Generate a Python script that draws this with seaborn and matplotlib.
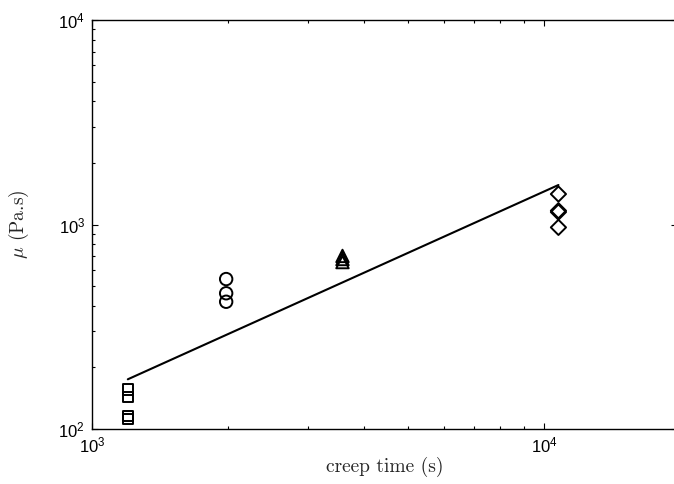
import numpy as np
import pandas as pd
import seaborn as sns
import matplotlib.pyplot as plt
from matplotlib.ticker import LogLocator, FuncFormatter, NullFormatter

# creep time (s) and measured viscosity (Pa.s) for each creep test
t_square = [1200, 1200, 1200, 1200]
mu_square = [156, 143, 116, 112]
t_circle = [1980, 1980, 1980]
mu_circle = [541, 461, 419]
t_triangle = [3580, 3580, 3580]
mu_triangle = [702, 678, 655]
t_diamond = [10750, 10750, 10750, 10750]
mu_diamond = [1409, 1168, 1150, 968]

# power-law fit end points
fit_t = [1200, 10750]
fit_mu = [175, 1560]

groups = [
    ("square", t_square, mu_square, "s", 55),
    ("circle", t_circle, mu_circle, "o", 80),
    ("triangle", t_triangle, mu_triangle, "^", 80),
    ("diamond", t_diamond, mu_diamond, "D", 60),
]

sns.set_style("ticks")
plt.rcParams["mathtext.fontset"] = "cm"

fig = plt.figure(figsize=(6.74, 4.84), dpi=100)
# right spine sits just past the image edge, as in the original crop
ax = fig.add_axes([92 / 674, 55 / 484, 585 / 674, 409 / 484])

fit_df = pd.DataFrame({"t": fit_t, "mu": fit_mu})
sns.lineplot(data=fit_df, x="t", y="mu", color="black", linewidth=1.5, ax=ax)

for name, t, mu, marker, size in groups:
    df = pd.DataFrame({"t": t, "mu": mu})
    sns.scatterplot(data=df, x="t", y="mu", marker=marker, s=size,
                    facecolor="none", edgecolor="black", linewidth=1.4, ax=ax)

ax.set_xscale("log")
ax.set_yscale("log")
ax.set_xlim(1000, 19660)
ax.set_ylim(100, 10000)

fmt = FuncFormatter(lambda v, p: r"$\mathregular{10^{%d}}$" % round(np.log10(v)))
ax.xaxis.set_major_locator(LogLocator(base=10))
ax.yaxis.set_major_locator(LogLocator(base=10))
ax.xaxis.set_minor_locator(LogLocator(base=10, subs=np.arange(2, 10)))
ax.yaxis.set_minor_locator(LogLocator(base=10, subs=np.arange(2, 10)))
ax.xaxis.set_major_formatter(fmt)
ax.yaxis.set_major_formatter(fmt)
ax.xaxis.set_minor_formatter(NullFormatter())
ax.yaxis.set_minor_formatter(NullFormatter())

ax.tick_params(which="both", direction="in", top=True, right=True, width=0.8,
               labelsize=12, colors="black")
ax.tick_params(which="major", length=4.5, pad=5)
ax.tick_params(which="minor", length=2.5)
for lab in ax.get_xticklabels() + ax.get_yticklabels():
    lab.set_fontfamily("Liberation Sans")

for sp in ax.spines.values():
    sp.set_visible(True)
    sp.set_linewidth(1.0)
    sp.set_color("black")

ax.set_xlabel("creep time (s)", fontsize=14, fontfamily="cmr10", labelpad=1)
ax.set_ylabel(r"$\mu$ (Pa.s)", fontsize=14, fontfamily="cmr10", labelpad=20)

fig.savefig("out.png", dpi=100)
